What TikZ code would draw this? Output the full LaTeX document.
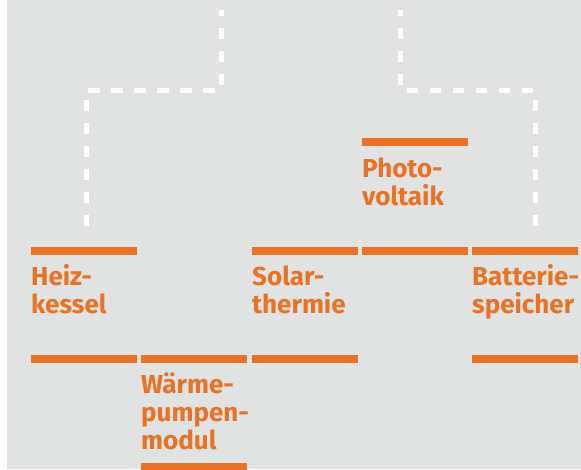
\documentclass[tikz,border=0pt]{standalone}
\usepackage{fontspec}
\setmainfont{Fira Sans}
\usetikzlibrary{calc}
\definecolor{panelgrey}{HTML}{E0E3E2}
\definecolor{energyorange}{HTML}{E87226}

\begin{document}
\begin{tikzpicture}[x=1pt,y=-1pt,
	bar/.style={fill=energyorange, draw=none, inner sep=0, minimum width=106, minimum height=8, anchor=north west},
	label/.style={anchor=base west, inner sep=0, align=left, text=energyorange,
		font=\fontsize{26}{28}\selectfont\bfseries},
	link/.style={draw=white, line width=5, dash pattern=on 11.5 off 11.5}]
	%%%%% START %%%%%
	
	\fill[white] (0, 0) rectangle (581, 469);
	\fill[panelgrey] (7, 0) rectangle (581, 469);
	\useasboundingbox (0, 0) rectangle (581, 469);
	
	% feed lines
	\coordinate (feedL) at (221, 10);
	\coordinate (feedR) at (400, 10);
	\coordinate (endL) at (86, 228);
	\coordinate (endR) at (535, 228);
	\draw[link, dash phase=5.5] (feedL) -- ++(0, 80) -| (endL);
	\draw[link, dash phase=5.5] (feedR) -- ++(0, 80) -| (endR);
	
	% Heizkessel
	\node[bar] (heiz top) at (31, 247) {};
	\node[label] (heiz) at (31, 313) {Heiz-\\kessel};
	\node[bar] (heiz bot) at (31, 355) {};
	
	% Waermepumpe
	\node[bar] (wp top) at (141, 355) {};
	\node[label] (wp) at (141, 449) {Wärme-\\pumpen-\\modul};
	\node[bar] (wp bot) at (141, 463) {};
	
	% Solarthermie
	\node[bar] (solar top) at (252, 247) {};
	\node[label] (solar) at (252, 313) {Solar-\\thermie};
	\node[bar] (solar bot) at (252, 355) {};
	
	% Photovoltaik
	\node[bar] (pv top) at (362, 138) {};
	\node[label] (pv) at (362, 205) {Photo-\\voltaik};
	\node[bar] (pv bot) at (362, 247) {};
	
	% Batteriespeicher
	\node[bar] (batt top) at (472, 247) {};
	\node[label] (batt) at (472, 313) {Batterie-\\speicher};
	\node[bar] (batt bot) at (472, 355) {};
	
	%%%%% END %%%%%
\end{tikzpicture}
\end{document}
